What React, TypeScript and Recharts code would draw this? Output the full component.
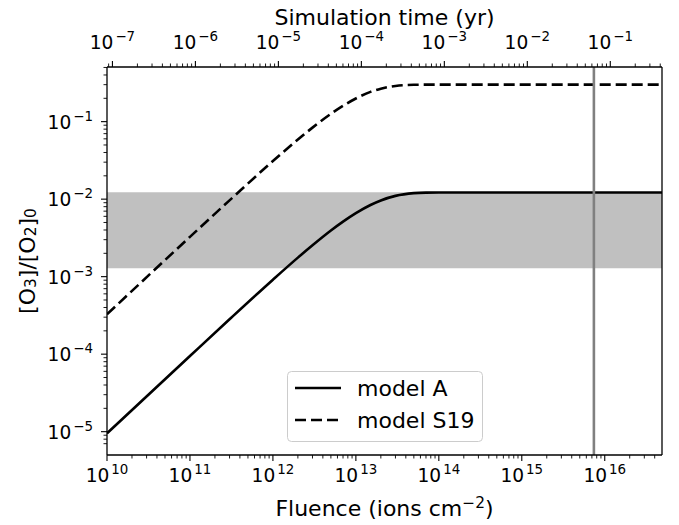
import React from 'react';
import { LineChart, Line, XAxis, YAxis, ReferenceArea, ReferenceLine, Legend, Label } from 'recharts';

// fluence (ions cm^-2) and [O3]/[O2]0
const fluence = [1e10, 1e11, 3e11, 1e12, 2e12, 3e12, 5e12, 7e12, 1e13, 1.5e13, 2e13, 3e13, 5e13, 7e13, 1e14, 1e15, 1e16, 4.9e16];
const modelA = [9.5e-6, 9.47e-5, 2.82e-4, 9.14e-4, 1.76e-3, 2.54e-3, 3.94e-3, 5.13e-3, 6.6e-3, 8.41e-3, 9.63e-3, 1.102e-2, 1.195e-2, 1.215e-2, 1.22e-2, 1.22e-2, 1.22e-2, 1.22e-2];
const modelS19 = [3.27e-4, 3.26e-3, 9.65e-3, 3.1e-2, 5.88e-2, 8.37e-2, 0.126, 0.16, 0.199, 0.242, 0.266, 0.289, 0.299, 0.3, 0.3, 0.3, 0.3, 0.3];

// simulation years per unit fluence (top axis is fluence / flux)
const yearsPerFluence = 8.6e-18;

const bandLow = 1.28e-3;
const bandHigh = 1.23e-2;
const markerFluence = 7.4e15;

const fluenceDomain = [1e10, 4.9e16];
const timeDomain = [8.6e-8, 0.42];
const ratioDomain = [5e-6, 0.507];

const fluenceMajor = [1e10, 1e11, 1e12, 1e13, 1e14, 1e15, 1e16];
const timeMajor = [1e-7, 1e-6, 1e-5, 1e-4, 1e-3, 1e-2, 1e-1];
const ratioMajor = [1e-5, 1e-4, 1e-3, 1e-2, 1e-1];

const seriesNames = ['model A', 'model S19'];

const data = fluence.map((f, i) => ({ fluence: f, time: f * yearsPerFluence, a: modelA[i], s19: modelS19[i] }));

const FONT = '"DejaVu Sans", sans-serif';

// log minor ticks (2..9 x 10^n) inside a domain
function minorTicks(lo: number, hi: number) {
    const out: number[] = [];
    for (let e = Math.floor(Math.log10(lo)); e <= Math.ceil(Math.log10(hi)); e++) {
        for (let m = 2; m <= 9; m++) {
            const v = Number((m * Math.pow(10, e)).toPrecision(3));
            if (v > lo && v < hi) out.push(v);
        }
    }
    return out;
}

const isMajor = (v: number) => Math.abs(Math.log10(v) - Math.round(Math.log10(v))) < 1e-6;
const expText = (v: number) => {
    const e = Math.round(Math.log10(v));
    return e < 0 ? '\u2212' + Math.abs(e) : String(e);
};

const TICK_FS = 18.6;
const SUP_FS = 13.4;
const TITLE_FS = 22;

function PowLabel({ x, y, v, anchor }: { x: number, y: number, v: number, anchor: 'middle' | 'end' }) {
    return (
        <text x={x} y={y} textAnchor={anchor} fontSize={TICK_FS} fontFamily={FONT} fill="#000">
            10<tspan dx={2} dy={-8} fontSize={SUP_FS}>{expText(v)}</tspan>
        </text>
    );
}

const BottomTick = (props: any) => {
    const { x, y, payload } = props;
    const major = isMajor(payload.value);
    return (
        <g>
            <line x1={x} x2={x} y1={y} y2={y + (major ? 6 : 3.5)} stroke="#000" strokeWidth={major ? 1.1 : 0.9} />
            {major && <PowLabel x={x} y={y + 27} v={payload.value} anchor="middle" />}
        </g>
    );
};

const TopTick = (props: any) => {
    const { x, y, payload } = props;
    const major = isMajor(payload.value);
    return (
        <g>
            <line x1={x} x2={x} y1={y} y2={y - (major ? 6 : 3.5)} stroke="#000" strokeWidth={major ? 1.1 : 0.9} />
            {major && <PowLabel x={x} y={y - 18} v={payload.value} anchor="middle" />}
        </g>
    );
};

const LeftTick = (props: any) => {
    const { x, y, payload } = props;
    const major = isMajor(payload.value);
    return (
        <g>
            <line x1={x} x2={x - (major ? 6 : 3.5)} y1={y} y2={y} stroke="#000" strokeWidth={major ? 1.1 : 0.9} />
            {major && <PowLabel x={x - 14} y={y + 7} v={payload.value} anchor="end" />}
        </g>
    );
};

const BottomTitle = (props: any) => {
    const { x, y, width } = props.viewBox;
    return (
        <text x={x + width / 2} y={y + 61} textAnchor="middle" fontSize={TITLE_FS} fontFamily={FONT} fill="#000">
            Fluence (ions cm<tspan dy={-8} fontSize={15.4}>{'\u2212'}2</tspan><tspan dy={8}>)</tspan>
        </text>
    );
};

const TopTitle = (props: any) => {
    const { x, y, width, height } = props.viewBox;
    return (
        <text x={x + width / 2} y={y + height - 42} textAnchor="middle" fontSize={TITLE_FS} fontFamily={FONT} fill="#000">
            Simulation time (yr)
        </text>
    );
};

const LeftTitle = (props: any) => {
    const { y, height } = props.viewBox;
    const cx = 27;
    const cy = y + height / 2;
    return (
        <text x={cx} y={cy} transform={`rotate(-90 ${cx} ${cy})`} textAnchor="middle" dominantBaseline="central" fontSize={TITLE_FS} fontFamily={FONT} fill="#000">
            [O<tspan dy={4} fontSize={15.4}>3</tspan><tspan dy={-4}>]/[O</tspan><tspan dy={4} fontSize={15.4}>2</tspan><tspan dy={-4}>]</tspan><tspan dy={4} fontSize={15.4}>0</tspan>
        </text>
    );
};

const LegendBox = () => (
    <svg width={196} height={71}>
        <rect x={0.5} y={0.5} width={195} height={70} rx={4} fill="#fff" fillOpacity={0.8} stroke="#cccccc" />
        <line x1={8} x2={54} y1={17} y2={17} stroke="#000" strokeWidth={2.6} />
        <line x1={8} x2={54} y1={49} y2={49} stroke="#000" strokeWidth={2.6} strokeDasharray="11 5" />
        <text x={70} y={24.5} fontSize={TITLE_FS} fontFamily={FONT} fill="#000">{seriesNames[0]}</text>
        <text x={70} y={56.5} fontSize={TITLE_FS} fontFamily={FONT} fill="#000">{seriesNames[1]}</text>
    </svg>
);

export default function App() {
    const axisLine = { stroke: '#000', strokeWidth: 1.3 };
    return (
        <div style={{ width: 679, height: 525, background: '#fff' }}>
            <style>{'body{margin:0}'}</style>
            <LineChart width={679} height={525} data={data} margin={{ top: 0, right: 17, bottom: 0, left: 0 }}>
                <XAxis
                    xAxisId="bottom"
                    dataKey="fluence"
                    type="number"
                    scale="log"
                    domain={fluenceDomain}
                    allowDataOverflow
                    ticks={[...fluenceMajor, ...minorTicks(fluenceDomain[0], fluenceDomain[1])]}
                    interval={0}
                    height={70}
                    tickSize={0}
                    tickMargin={0}
                    tickLine={false}
                    axisLine={axisLine}
                    tick={BottomTick}
                >
                    <Label content={BottomTitle} />
                </XAxis>
                <XAxis
                    xAxisId="top"
                    dataKey="time"
                    orientation="top"
                    type="number"
                    scale="log"
                    domain={timeDomain}
                    allowDataOverflow
                    ticks={[...timeMajor, ...minorTicks(timeDomain[0], timeDomain[1])]}
                    interval={0}
                    height={67}
                    tickSize={0}
                    tickMargin={0}
                    tickLine={false}
                    axisLine={axisLine}
                    tick={TopTick}
                >
                    <Label content={TopTitle} />
                </XAxis>
                <YAxis
                    type="number"
                    scale="log"
                    domain={ratioDomain}
                    allowDataOverflow
                    ticks={[...ratioMajor, ...minorTicks(6e-6, ratioDomain[1])]}
                    interval={0}
                    width={107}
                    tickSize={0}
                    tickMargin={0}
                    tickLine={false}
                    axisLine={axisLine}
                    tick={LeftTick}
                >
                    <Label content={LeftTitle} />
                </YAxis>
                <ReferenceArea xAxisId="bottom" y1={bandLow} y2={bandHigh} fill="#c0c0c0" fillOpacity={1} stroke="none" />
                {/* invisible series so the top (time) axis gets built */}
                <Line xAxisId="top" type="linear" dataKey="a" stroke="none" dot={false} activeDot={false} legendType="none" isAnimationActive={false} />
                <Line xAxisId="bottom" type="monotone" dataKey="a" name={seriesNames[0]} stroke="#000" strokeWidth={2.6} dot={false} isAnimationActive={false} />
                <Line xAxisId="bottom" type="monotone" dataKey="s19" name={seriesNames[1]} stroke="#000" strokeWidth={2.6} strokeDasharray="11 5" dot={false} isAnimationActive={false} />
                <ReferenceLine xAxisId="bottom" x={markerFluence} stroke="#808080" strokeWidth={2.6} />
                <ReferenceLine xAxisId="bottom" x={fluenceDomain[1]} stroke="#000" strokeWidth={1.3} />
                <Legend
                    verticalAlign="middle"
                    align="center"
                    layout="horizontal"
                    content={LegendBox}
                    wrapperStyle={{ left: 287, top: 371, width: 196, height: 71 }}
                />
            </LineChart>
        </div>
    );
}
